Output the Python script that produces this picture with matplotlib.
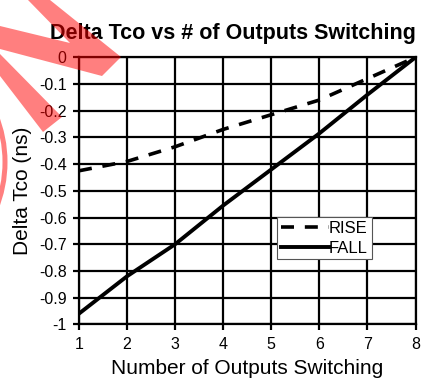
import matplotlib
matplotlib.use("Agg")
import matplotlib.pyplot as plt
from matplotlib.patches import Polygon, Circle
import numpy as np

plt.rcParams['font.family'] = ['Liberation Sans', 'DejaVu Sans']

# outputs switching vs delta Tco (ns)
outputs = [1, 2, 3, 4, 5, 6, 7, 8]
rise = [-0.425, -0.39, -0.335, -0.27, -0.215, -0.16, -0.08, 0.0]
fall = [-0.96, -0.82, -0.70, -0.555, -0.42, -0.285, -0.14, 0.0]

W, H = 426, 381
fig = plt.figure(figsize=(W / 100, H / 100), dpi=100)
ax = fig.add_axes([79 / W, 1 - 324.3 / H, 336.5 / W, 267 / H])

ax.plot(outputs, rise, color='black', lw=2.6, linestyle=(0, (3.6, 3.0)),
        label='RISE', zorder=3)
ax.plot(outputs, fall, color='black', lw=2.8, label='FALL', zorder=3)

ax.set_xlim(1, 8)
ax.set_ylim(-1, 0)
ax.set_xticks(outputs)
yt = np.round(np.arange(-1.0, 0.01, 0.1), 1)
ax.set_yticks(yt)
ax.set_yticklabels(['0' if v == 0 else '-1' if v == -1 else f'{v:.1f}' for v in yt])
ax.grid(True, color='black', lw=1.6)
for s in ax.spines.values():
    s.set_linewidth(1.6)
ax.tick_params(direction='out', length=4, width=1.6, labelsize=11.5, pad=5)

ax.set_xlabel('Number of Outputs Switching', fontsize=15)
ax.set_ylabel('Delta Tco (ns)', fontsize=15)
ax.xaxis.set_label_coords(0.5, -(368 - 324.3) / 267)
ax.xaxis.label.set_va('center')
ax.yaxis.set_label_coords((23 - 79) / 336.5, 0.5)
ax.yaxis.label.set_va('center')
fig.text(233 / W, 1 - 33 / H, 'Delta Tco vs # of Outputs Switching',
         fontsize=15.5, fontweight='bold', ha='center', va='center')

leg = ax.legend(loc='upper left', bbox_to_anchor=((277 - 79) / 336.5, (324.3 - 217) / 267),
                borderaxespad=0, fontsize=12, handlelength=2.9, handletextpad=0.0,
                labelspacing=0.3, borderpad=0.22, fancybox=False, framealpha=1,
                edgecolor='#555555')
leg.get_frame().set_linewidth(0.8)


# red stamp in the upper left corner
def px(x, y):
    return (x / 100, (H - y) / 100)


stamp = dict(facecolor='red', edgecolor='none', alpha=0.5, zorder=10,
             transform=fig.dpi_scale_trans)
fig.add_artist(Polygon([px(28, 0), px(50, 0), px(121, 57), px(102, 76),
                        px(0, 49), px(0, 26), px(70, 43)], **stamp))
fig.add_artist(Polygon([px(0, 54), px(62, 117), px(43, 132), px(0, 76)], **stamp))
fig.add_artist(Circle(px(-120, 162), 1.25, fill=False, edgecolor='red', alpha=0.5,
                      lw=3.6, zorder=10, transform=fig.dpi_scale_trans))

fig.savefig('out.png', dpi=100)
